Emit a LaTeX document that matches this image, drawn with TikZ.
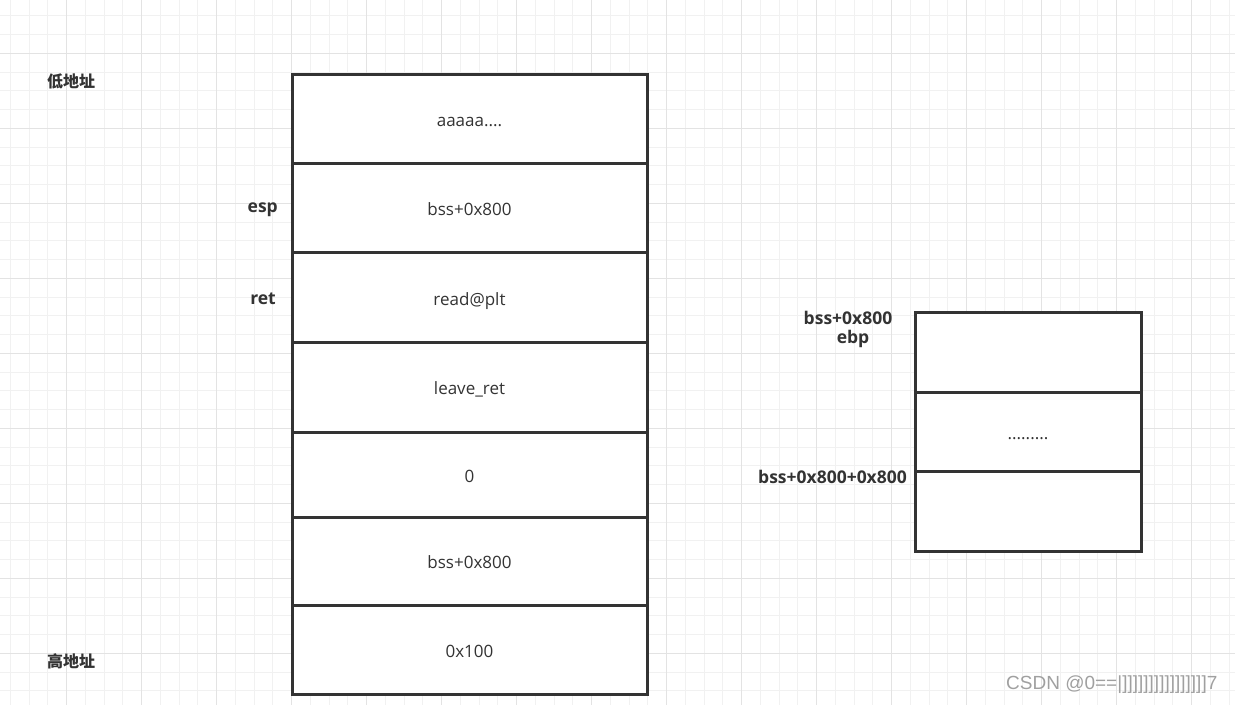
\documentclass[tikz,border=0pt]{standalone}
\usepackage{fontspec}
\setmainfont{Open Sans}
\newfontfamily\cjk{Noto Sans CJK SC}
\newfontfamily\wmfont{Liberation Sans}
\usetikzlibrary{positioning}

\definecolor{ink}{HTML}{333333}
\definecolor{gridminor}{HTML}{F1F1F1}
\definecolor{gridmajor}{HTML}{E3E3E3}
\definecolor{wmgray}{HTML}{A0A0A0}

\tikzset{
    cell/.style={draw=ink, line width=3pt, fill=white, minimum width=355pt, inner sep=0pt,
        text=ink, font=\fontsize{17}{20}\selectfont, text height=15pt, text depth=0pt},
    rcell/.style={cell, minimum width=226pt},
    tag/.style={text=ink, inner sep=0pt, font=\fontsize{17.5}{20}\selectfont\bfseries},
    cjktag/.style={text=ink, inner sep=0pt, font=\fontsize{16}{19}\selectfont\cjk\bfseries}
}

\begin{document}
\begin{tikzpicture}[x=1pt, y=-1pt]
    \useasboundingbox (0,0) rectangle (1235,705);
    % Grid
    \fill[white] (0,0) rectangle (1235,705);
    \foreach \k in {0,...,65} \draw[gridminor, line width=1pt] (10.45+18.75*\k,0) -- (10.45+18.75*\k,705);
    \foreach \k in {0,...,37} \draw[gridminor, line width=1pt] (0,15.8+18.75*\k) -- (1235,15.8+18.75*\k);
    \foreach \k in {0,...,16} \draw[gridmajor, line width=1pt] (-8.3+75*\k,0) -- (-8.3+75*\k,705);
    \foreach \k in {0,...,9} \draw[gridmajor, line width=1pt] (0,-21.7+75*\k) -- (1235,-21.7+75*\k);
    % Stack
    \node[cell, minimum height=89pt] (fill) at (469.5,118.5) {aaaaa....};
    \node[cell, minimum height=89.5pt] (ebpslot) at (469.5,207.75) {bss+0x800};
    \node[cell, minimum height=90pt] (retslot) at (469.5,297.5) {read@plt};
    \node[cell, minimum height=89.5pt] (readret) at (469.5,387.25) {leave\_ret};
    \node[cell, minimum height=85pt] (argfd) at (469.5,474.5) {0};
    \node[cell, minimum height=88pt] (argbuf) at (469.5,561) {bss+0x800};
    \node[cell, minimum height=89pt] (arglen) at (469.5,649.5) {0x100};
    % Labels
    \node[cjktag] (low) at (71,81) {低地址};
    \node[cjktag] (high) at (71,661) {高地址};
    \node[tag, anchor=east] (esp) at (278,210) {esp};
    \node[tag, anchor=east] (ret) at (276,299) {ret};
    % bss area
    \node[rcell, minimum height=80pt] (bsstop) at (1028,352) {};
    \node[rcell, minimum height=79.5pt] (bssmid) at (1028,431.75) {.........};
    \node[rcell, minimum height=79.5pt] (bssend) at (1028,511.25) {};
    \node[tag] (bssaddr) at (848,318) {bss+0x800};
    \node[tag] (ebp) at (853,338.5) {ebp};
    \node[tag, anchor=east] (bssaddr2) at (907,477) {bss+0x800+0x800};
    % Watermark
    \node[text=wmgray, inner sep=0pt, anchor=west, font=\fontsize{19}{22}\selectfont\wmfont] (wm) at (1006,685)
        {CSDN @0==|]]]]]]]]]]]]]]]]7};
\end{tikzpicture}
\end{document}
